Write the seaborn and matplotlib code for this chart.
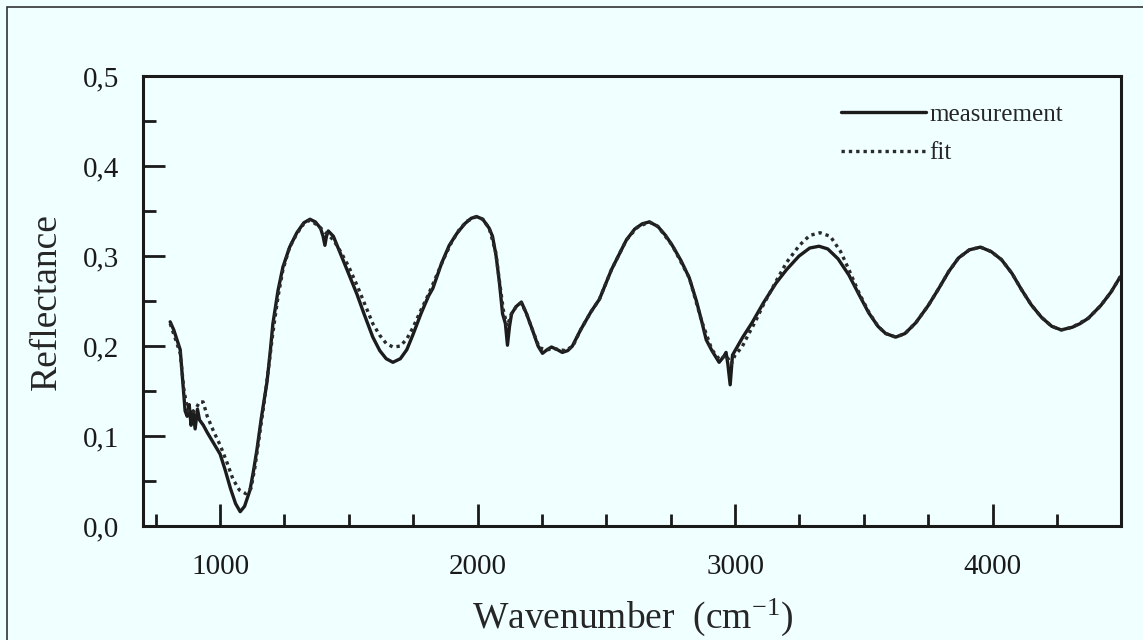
import numpy as np
import pandas as pd
import seaborn as sns
import matplotlib
matplotlib.use("Agg")
import matplotlib.pyplot as plt
from matplotlib.ticker import MultipleLocator, FixedLocator, FixedFormatter
from matplotlib.patches import Rectangle

wn_meas = [806, 820, 835, 845, 855, 864, 872, 880, 887, 895, 903, 912, 920, 935, 950,
           975, 1000, 1020, 1040, 1060, 1078, 1095, 1116, 1130, 1143, 1160, 1182, 1195,
           1205, 1225, 1244, 1270, 1298, 1325, 1349, 1370, 1390, 1400, 1407, 1413, 1420,
           1440, 1460, 1477, 1500, 1531, 1560, 1593, 1620, 1645, 1671, 1700, 1725, 1748,
           1780, 1810, 1826, 1860, 1890, 1919, 1950, 1975, 1996, 2020, 2045, 2058, 2072,
           2085, 2097, 2108, 2116, 2124, 2132, 2150, 2170, 2190, 2213, 2235, 2252, 2270,
           2287, 2310, 2329, 2350, 2368, 2400, 2440, 2473, 2520, 2550, 2578, 2610, 2640,
           2667, 2700, 2730, 2756, 2790, 2822, 2850, 2870, 2888, 2910, 2925, 2938, 2955,
           2965, 2972, 2981, 2990, 3004, 3030, 3066, 3110, 3159, 3200, 3248, 3290, 3326,
           3360, 3400, 3442, 3480, 3519, 3555, 3585, 3624, 3660, 3702, 3750, 3791, 3830,
           3868, 3910, 3953, 3995, 4035, 4075, 4112, 4150, 4190, 4230, 4267, 4310, 4340,
           4372, 4420, 4460, 4496]
refl_meas = [.227, .218, .205, .196, .160, .128, .122, .135, .112, .128, .108, .130, .118,
             .112, .104, .092, .080, .062, .042, .025, .016, .022, .040, .062, .085, .120,
             .160, .195, .225, .262, .288, .310, .326, .337, .341, .338, .331, .322, .312,
             .322, .328, .322, .308, .296, .280, .258, .235, .210, .195, .186, .182, .186,
             .196, .212, .236, .256, .264, .292, .312, .325, .336, .342, .344, .341, .331,
             .322, .300, .270, .236, .225, .201, .222, .236, .244, .249, .236, .218, .200,
             .192, .196, .199, .196, .193, .195, .200, .218, .238, .252, .285, .302, .318,
             .330, .336, .338, .333, .323, .312, .295, .276, .250, .228, .207, .195, .188,
             .182, .188, .193, .180, .157, .190, .197, .210, .226, .248, .270, .285, .300,
             .309, .311, .308, .297, .279, .258, .237, .222, .214, .210, .214, .226, .245,
             .264, .283, .298, .307, .310, .305, .296, .281, .263, .246, .232, .222, .218,
             .221, .225, .231, .245, .260, .277]

# fitted spectrum
wn_fit = [806, 830, 845, 860, 875, 890, 905, 920, 934, 950, 975, 1000, 1025, 1050, 1075,
          1100, 1120, 1135, 1150, 1170, 1190, 1205, 1225, 1244, 1270, 1298, 1325, 1349,
          1380, 1410, 1440, 1470, 1500, 1531, 1560, 1593, 1620, 1645, 1671, 1700, 1725,
          1748, 1780, 1810, 1840, 1870, 1900, 1930, 1960, 1996, 2020, 2045, 2070, 2085,
          2100, 2115, 2130, 2150, 2170, 2190, 2213, 2240, 2270, 2300, 2340, 2370, 2400,
          2440, 2473, 2520, 2578, 2620, 2667, 2700, 2756, 2822, 2870, 2910, 2940, 2965,
          2985, 3000, 3027, 3050, 3080, 3110, 3159, 3200, 3250, 3290, 3330, 3370, 3410,
          3442, 3480, 3519, 3555, 3585, 3624, 3660, 3702, 3750, 3791, 3830, 3868, 3910,
          3953, 3995, 4035, 4075, 4112, 4150, 4190, 4230, 4267, 4310, 4372, 4420, 4460,
          4496]
refl_fit = [.225, .205, .192, .150, .128, .125, .130, .138, .138, .122, .105, .090, .072,
            .052, .040, .036, .042, .065, .095, .135, .180, .215, .255, .285, .310, .325,
            .336, .340, .334, .326, .318, .304, .288, .268, .248, .225, .212, .203, .199,
            .200, .208, .220, .240, .258, .278, .298, .316, .330, .339, .344, .341, .331,
            .305, .272, .240, .222, .235, .244, .248, .236, .218, .198, .196, .197, .195,
            .200, .218, .238, .252, .285, .318, .332, .338, .333, .312, .276, .228, .196,
            .185, .190, .180, .190, .199, .212, .228, .246, .272, .293, .312, .323, .326,
            .322, .305, .285, .260, .238, .222, .214, .210, .214, .226, .245, .264, .283,
            .298, .307, .310, .305, .296, .281, .263, .246, .232, .222, .218, .221, .231,
            .245, .260, .277]

ytick_vals = [0.0, 0.1, 0.2, 0.3, 0.4, 0.5]
ytick_labels = ["0,0", "0,1", "0,2", "0,3", "0,4", "0,5"]
xtick_vals = [1000, 2000, 3000, 4000]

sns.set_style("ticks")
plt.rcParams["font.family"] = ["Liberation Serif", "DejaVu Serif"]
plt.rcParams["mathtext.fontset"] = "custom"
plt.rcParams["mathtext.rm"] = "Liberation Serif"
plt.rcParams["mathtext.it"] = "Liberation Serif:italic"

bg = "#f0ffff"
fig = plt.figure(figsize=(11.43, 6.4), dpi=100, facecolor=bg)
ax = fig.add_axes([0.125, 0.178, 0.856, 0.703], facecolor=bg)

meas = pd.DataFrame({"wn": wn_meas, "R": refl_meas})
fit = pd.DataFrame({"wn": wn_fit, "R": refl_fit})

sns.lineplot(data=meas, x="wn", y="R", ax=ax, color="#1c1c1c", linewidth=2.4,
             label="measurement", estimator=None, sort=False)
sns.lineplot(data=fit, x="wn", y="R", ax=ax, color="#2a2a2a", linewidth=2.4,
             linestyle=(0, (1, 1.2)), label="fit", estimator=None, sort=False)

ax.set_xlim(700, 4500)
ax.set_ylim(0, 0.5)
ax.xaxis.set_major_locator(FixedLocator(xtick_vals))
ax.xaxis.set_minor_locator(MultipleLocator(250))
ax.yaxis.set_major_locator(FixedLocator(ytick_vals))
ax.yaxis.set_major_formatter(FixedFormatter(ytick_labels))
ax.yaxis.set_minor_locator(MultipleLocator(0.05))

ax.tick_params(which="major", direction="in", length=16, width=2, labelsize=21,
               colors="#1a1a1a")
ax.tick_params(which="minor", direction="in", length=9, width=2, colors="#1a1a1a")
ax.tick_params(axis="x", which="major", pad=20)
ax.tick_params(axis="y", which="major", pad=17)

for side in ["left", "bottom", "right", "top"]:
    ax.spines[side].set_visible(True)
    ax.spines[side].set_linewidth(2.2)
    ax.spines[side].set_color("#1a1a1a")

ax.set_xlabel("Wavenumber  (cm$^{\\mathrm{-1}}$)", fontsize=27, labelpad=12)
ax.set_ylabel("Reflectance", fontsize=27, labelpad=14)

leg = ax.legend(loc="upper right", bbox_to_anchor=(0.94, 0.94), frameon=False,
                fontsize=18, handlelength=3.4, handletextpad=0.1, labelspacing=0.65,
                borderaxespad=0, borderpad=0)

fig.patches.append(Rectangle((0.006, -0.1), 1.5, 1.089, transform=fig.transFigure,
                             fill=False, edgecolor="#333333", linewidth=1.2))

fig.savefig("out.png", dpi=100, facecolor=bg)
